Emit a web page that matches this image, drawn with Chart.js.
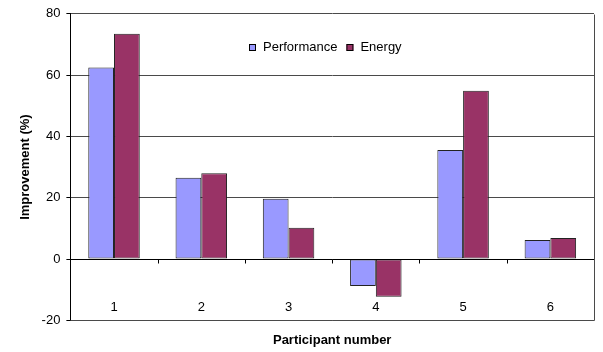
<!DOCTYPE html>
<html>
<head>
<meta charset="utf-8">
<script src="https://cdn.jsdelivr.net/npm/chart.js@4.4.1/dist/chart.umd.min.js"></script>
<style>
  html, body { margin: 0; padding: 0; background: #fff; }
  #wrap { width: 603px; height: 352px; }
</style>
</head>
<body>
<div id="wrap"><canvas id="c" width="603" height="352"></canvas></div>
<script>
// Improvement per participant, in percent
const participants = ['1', '2', '3', '4', '5', '6'];
const performance = [62.5, 26.5, 19.7, -8.8, 35.6, 6.2];
const energy = [73.5, 28.0, 10.2, -12.3, 54.9, 6.9];
const yTicks = [-20, 0, 20, 40, 60, 80];

const FONT = '"Liberation Sans", Arial, sans-serif';
const GRID = '#4a4a4a';

// Plot frame, zero baseline with category separators, category labels
// sitting just above the bottom frame, and the in-plot legend
const frameAndZero = {
  id: 'frameAndZero',
  afterDatasetsDraw(chart) {
    const { ctx, chartArea: a, scales: { x, y } } = chart;
    ctx.save();
    ctx.lineWidth = 1;
    // right and bottom frame
    ctx.strokeStyle = GRID;
    ctx.beginPath();
    ctx.moveTo(Math.round(a.right) + 0.5, Math.round(a.top) + 0.5);
    ctx.lineTo(Math.round(a.right) + 0.5, Math.round(a.bottom) + 0.5);
    ctx.lineTo(Math.round(a.left) + 0.5, Math.round(a.bottom) + 0.5);
    ctx.stroke();
    // zero line with category separators
    const y0 = Math.round(y.getPixelForValue(0)) + 0.5;
    ctx.strokeStyle = '#000';
    ctx.beginPath();
    ctx.moveTo(a.left, y0);
    ctx.lineTo(a.right, y0);
    for (let i = 1; i < participants.length; i++) {
      const xb = Math.round((x.getPixelForValue(i - 1) + x.getPixelForValue(i)) / 2) + 0.5;
      ctx.moveTo(xb, y0);
      ctx.lineTo(xb, y0 + 4);
    }
    ctx.stroke();

    // category labels
    ctx.fillStyle = '#000';
    ctx.font = '13px ' + FONT;
    ctx.textAlign = 'center';
    ctx.textBaseline = 'middle';
    const ly = y.getPixelForValue(-20) - 13;
    participants.forEach((p, i) => ctx.fillText(p, x.getPixelForValue(i), ly));

    // legend
    ctx.textAlign = 'left';
    const items = chart.data.datasets.map(d => ({
      label: d.label, color: d.backgroundColor, w: ctx.measureText(d.label).width
    }));
    const box = 7, gapBoxText = 7, gapItems = 9;
    const total = items.reduce((s, it) => s + box + gapBoxText + it.w, 0) + gapItems * (items.length - 1);
    let lx = Math.round((a.left + a.right) / 2 - 7 - total / 2);
    const legY = a.top + 34;
    items.forEach(it => {
      ctx.fillStyle = it.color;
      ctx.fillRect(lx, Math.round(legY - box / 2), box, box);
      ctx.strokeStyle = '#000';
      ctx.strokeRect(lx + 0.5, Math.round(legY - box / 2) + 0.5, box - 1, box - 1);
      ctx.fillStyle = '#000';
      ctx.fillText(it.label, lx + box + gapBoxText, legY);
      lx += box + gapBoxText + it.w + gapItems;
    });
    ctx.restore();
  }
};

new Chart(document.getElementById('c'), {
  type: 'bar',
  data: {
    labels: participants,
    datasets: [
      {
        label: 'Performance',
        data: performance,
        backgroundColor: '#9999FF',
        borderColor: '#222',
        borderWidth: 1,
        borderSkipped: false
      },
      {
        label: 'Energy',
        data: energy,
        backgroundColor: '#993366',
        borderColor: '#222',
        borderWidth: 1,
        borderSkipped: false
      }
    ]
  },
  options: {
    responsive: false,
    animation: false,
    layout: { padding: { left: 18, right: 9, top: 5, bottom: 4 } },
    datasets: {
      bar: { categoryPercentage: 0.59, barPercentage: 1.0 }
    },
    scales: {
      x: {
        grid: { display: false },
        border: { display: false },
        ticks: { display: false },
        title: {
          display: true,
          text: 'Participant number',
          color: '#000',
          font: { family: FONT, size: 13, weight: 'bold' },
          padding: { top: 4, bottom: 0 }
        }
      },
      y: {
        min: -20,
        max: 80,
        afterBuildTicks(scale) {
          scale.ticks = yTicks.map(v => ({ value: v }));
        },
        grid: {
          color: (c) => (c.tick && c.tick.value === 0 ? 'rgba(0,0,0,0)' : GRID),
          tickColor: '#000',
          tickLength: 4,
          drawTicks: true
        },
        border: { display: true, color: '#000' },
        ticks: {
          color: '#000',
          padding: 6,
          font: { family: FONT, size: 13 }
        },
        title: {
          display: true,
          text: 'Improvement (%)',
          color: '#000',
          font: { family: FONT, size: 13, weight: 'bold' },
          padding: { top: 0, bottom: 2 }
        }
      }
    },
    plugins: {
      legend: { display: false },
      tooltip: { enabled: false }
    }
  },
  plugins: [frameAndZero]
});
</script>
</body>
</html>
